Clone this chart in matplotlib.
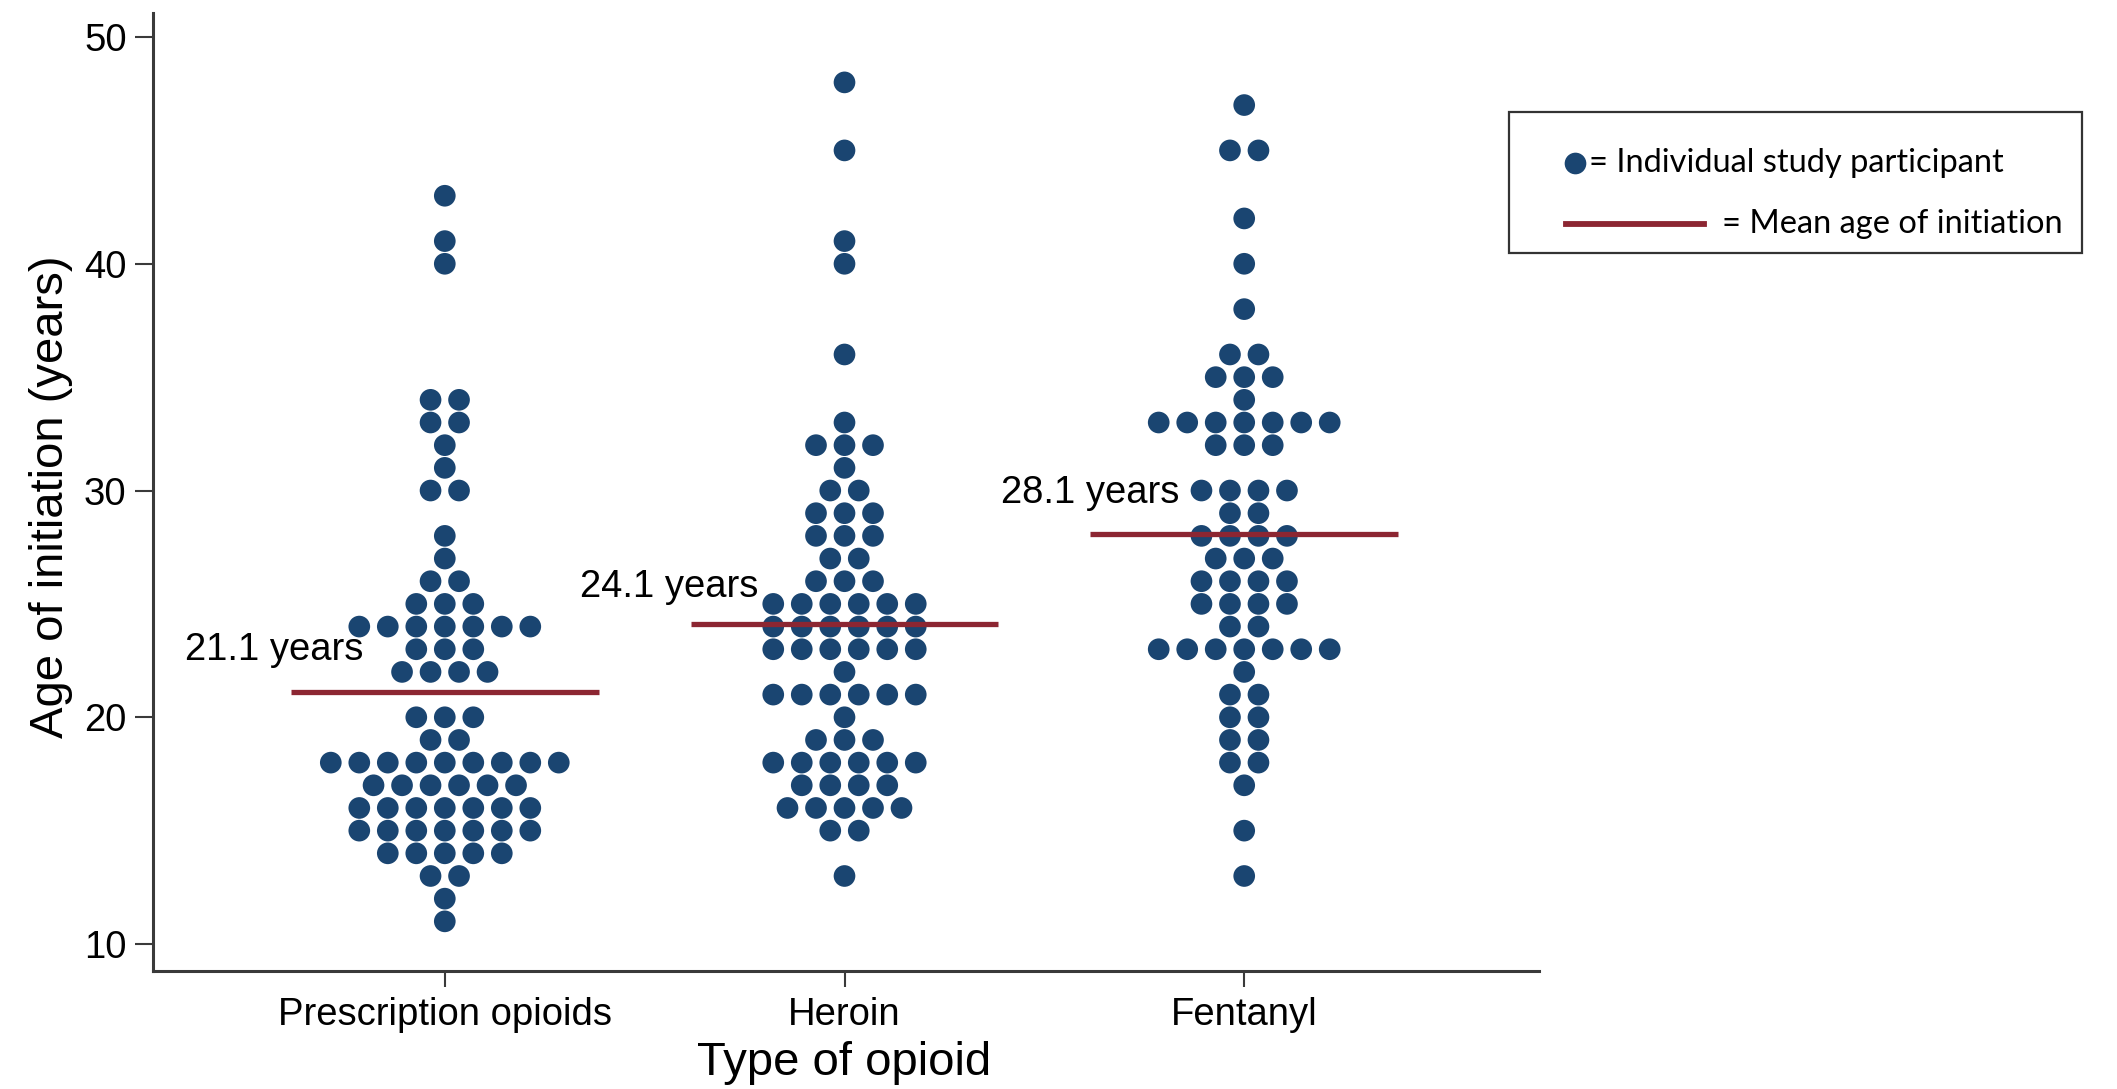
import matplotlib
matplotlib.use("Agg")
import matplotlib.pyplot as plt
from matplotlib.lines import Line2D
from matplotlib.patches import Rectangle
import numpy as np

# ---- data -------------------------------------------------------------
categories = ["Prescription opioids", "Heroin", "Fentanyl"]

rx_ages = [43, 41, 40, 34, 33, 32, 31, 30, 28, 27, 26, 25, 24,
           23, 22, 20, 19, 18, 17, 16, 15, 14, 13, 12, 11]
rx_counts = [1, 1, 1, 2, 2, 1, 1, 2, 1, 1, 2, 3, 7,
             3, 4, 3, 2, 9, 6, 7, 7, 5, 2, 1, 1]

heroin_ages = [48, 45, 41, 40, 36, 33, 32, 31, 30, 29, 28, 27, 26,
               25, 24, 23, 22, 21, 20, 19, 18, 17, 16, 15, 13]
heroin_counts = [1, 1, 1, 1, 1, 1, 3, 1, 2, 3, 3, 2, 3,
                 6, 6, 6, 1, 6, 1, 3, 6, 4, 5, 2, 1]

fent_ages = [47, 45, 42, 40, 38, 36, 35, 34, 33, 32, 30, 29, 28,
             27, 26, 25, 24, 23, 22, 21, 20, 19, 18, 17, 15, 13]
fent_counts = [1, 2, 1, 1, 1, 2, 3, 1, 7, 3, 4, 2, 4,
               3, 4, 4, 2, 7, 1, 2, 2, 2, 2, 1, 1, 1]

mean_ages = [21.1, 24.1, 28.1]
mean_labels = ["21.1 years", "24.1 years", "28.1 years"]
yticks = [10, 20, 30, 40, 50]

# ---- style ------------------------------------------------------------
DOT = "#1a4571"
MEAN = "#8c2632"
AXC = "#3a3a3a"
FONT = "Liberation Sans"

W, H = 2117, 1089
fig = plt.figure(figsize=(W / 100, H / 100), dpi=100)
ax = fig.add_axes([153 / W, 1 - 971 / H, (1539 - 153) / W, (971 - 13) / H])

step = 0.0713          # horizontal spacing between stacked dots
dot_size = 15.6 ** 2   # marker area in pt^2

groups = [(rx_ages, rx_counts), (heroin_ages, heroin_counts), (fent_ages, fent_counts)]
for i, (ages, counts) in enumerate(groups):
    pos = i + 1
    xs, ys = [], []
    for age, n in zip(ages, counts):
        offs = (np.arange(n) - (n - 1) / 2) * step
        xs.extend(pos + offs)
        ys.extend([age] * n)
    ax.scatter(xs, ys, s=dot_size, color=DOT, edgecolors="none", zorder=3)

# mean lines and their labels
label_pos = [(0.797, 22.97), (1.784, 25.74), (2.837, 29.88)]
for i, (m, lab) in enumerate(zip(mean_ages, mean_labels)):
    pos = i + 1
    ax.hlines(m, pos - 0.385, pos + 0.385, color=MEAN, lw=3.8, zorder=4)
    lx, ly = label_pos[i]
    ax.text(lx, ly, lab, ha="right", va="center", fontsize=27.5,
            family=FONT, color="black", zorder=5)

ax.set_xlim(0.27, 3.7375)
ax.set_ylim(8.81, 51.06)
ax.set_xticks([1, 2, 3])
ax.set_xticklabels(categories, family=FONT, fontsize=27.5)
ax.set_yticks(yticks)
ax.set_yticklabels([str(t) for t in yticks], family=FONT, fontsize=27.5)

for side in ("top", "right"):
    ax.spines[side].set_visible(False)
for side in ("left", "bottom"):
    ax.spines[side].set_color(AXC)
    ax.spines[side].set_linewidth(2.2)
ax.tick_params(axis="y", length=13, width=1.5, color=AXC, pad=6)
ax.tick_params(axis="x", length=11.5, width=1.5, color=AXC, pad=7.5)

fig.text(51 / W, 1 - 497 / H, "Age of initiation (years)", rotation=90,
         ha="center", va="center", fontsize=34, family=FONT)
fig.text(844 / W, 1 - 1063 / H, "Type of opioid",
         ha="center", va="center", fontsize=34, family=FONT)

# ---- key box ----------------------------------------------------------
box = Rectangle((1509 / W, 1 - 253 / H), (2082 - 1509) / W, (253 - 112) / H,
                transform=fig.transFigure, fill=False, edgecolor="#333333",
                lw=1.6)
fig.add_artist(box)
fig.add_artist(Line2D([1575 / W], [1 - 163 / H], marker="o", markersize=15.6,
                      color=DOT, markeredgewidth=0, transform=fig.transFigure))
fig.text(1589 / W, 1 - 163 / H, "= Individual study participant",
         ha="left", va="center", fontsize=23.5, family="Lato")
fig.add_artist(Line2D([1566 / W, 1704 / W], [1 - 224 / H, 1 - 224 / H],
                      color=MEAN, lw=4.2, transform=fig.transFigure))
fig.text(1722 / W, 1 - 224 / H, "= Mean age of initiation",
         ha="left", va="center", fontsize=23.5, family="Lato")

fig.savefig("out.png", dpi=100, facecolor="white")
